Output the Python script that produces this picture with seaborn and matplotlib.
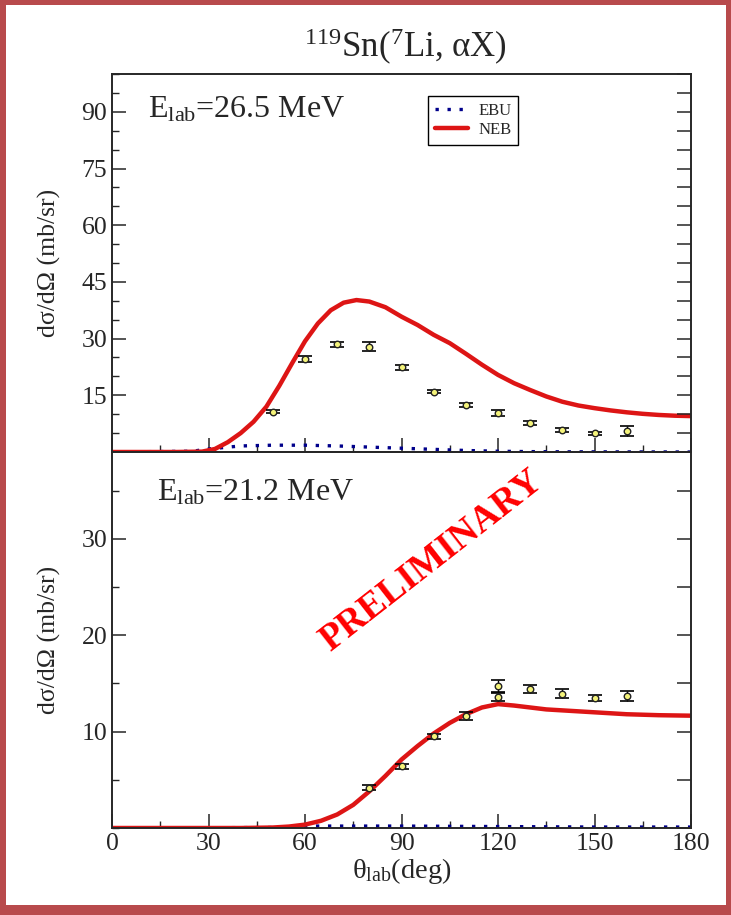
import numpy as np
import matplotlib
matplotlib.use("Agg")
import matplotlib.pyplot as plt
import seaborn as sns
import pandas as pd
from matplotlib.patches import Rectangle
from matplotlib.ticker import MultipleLocator

# ---- data ----
# 26.5 MeV (top panel)
neb_top_x = [0, 10, 20, 28, 32, 36, 40, 44, 48, 52, 56, 60, 64, 68, 72, 76, 80, 85, 90, 95,
             100, 105, 110, 115, 120, 125, 130, 135, 140, 145, 150, 155, 160, 165, 170, 175, 180]
neb_top_y = [0, 0, 0, 0.1, 0.8, 2.6, 5.0, 8.0, 12.0, 17.5, 23.5, 29.3, 34.0, 37.5, 39.5, 40.2,
             39.8, 38.3, 35.8, 33.6, 31.0, 28.8, 26.0, 23.1, 20.4, 18.2, 16.4, 14.7, 13.3, 12.3,
             11.6, 11.0, 10.5, 10.1, 9.8, 9.6, 9.5]
ebu_top_x = [0, 25, 30, 40, 50, 60, 70, 80, 90, 100, 110, 120, 130, 140, 180]
ebu_top_y = [0, 0.2, 0.8, 1.6, 1.8, 1.8, 1.6, 1.3, 1.0, 0.7, 0.4, 0.2, 0.1, 0.05, 0.0]
exp_top_x = [50, 60, 70, 80, 90, 100, 110, 120, 130, 140, 150, 160]
exp_top_y = [10.7, 24.6, 28.5, 27.9, 22.4, 16.0, 12.4, 10.2, 7.6, 5.8, 4.9, 5.6]
exp_top_err = [0.5, 0.9, 0.6, 1.1, 0.6, 0.5, 0.5, 0.8, 0.5, 0.5, 0.5, 1.3]

# 21.2 MeV (bottom panel)
neb_bot_x = [0, 20, 40, 50, 55, 60, 65, 70, 75, 80, 85, 90, 95, 100, 105, 110, 115, 120,
             125, 130, 135, 140, 150, 160, 170, 180]
neb_bot_y = [0, 0, 0, 0.05, 0.15, 0.35, 0.75, 1.4, 2.4, 3.8, 5.4, 7.1, 8.5, 9.8, 10.9, 11.8,
             12.5, 12.85, 12.7, 12.5, 12.3, 12.2, 12.0, 11.8, 11.7, 11.65]
ebu_bot_x = [0, 50, 60, 90, 120, 150, 180]
ebu_bot_y = [0, 0.05, 0.2, 0.2, 0.15, 0.1, 0.1]
exp_bot_x = [80, 90, 100, 110, 120, 120, 130, 140, 150, 160]
exp_bot_y = [4.2, 6.4, 9.5, 11.65, 14.7, 13.6, 14.4, 13.95, 13.5, 13.7]
exp_bot_err = [0.25, 0.25, 0.3, 0.4, 0.6, 0.4, 0.4, 0.5, 0.3, 0.55]

sns.set_style("ticks")
plt.rcParams["font.family"] = ["Liberation Serif", "DejaVu Serif"]
plt.rcParams["mathtext.fontset"] = "custom"
plt.rcParams["mathtext.rm"] = "Liberation Serif"
plt.rcParams["mathtext.it"] = "Liberation Serif:italic"
plt.rcParams["axes.linewidth"] = 1.2

W, H = 731, 915
fig = plt.figure(figsize=(W / 100, H / 100), dpi=100)
left, right = 112 / W, 691 / W
ax1 = fig.add_axes([left, 1 - 452 / H, right - left, (452 - 74) / H])
ax2 = fig.add_axes([left, 1 - 828 / H, right - left, (828 - 452) / H])

neb_color = "#dd1515"
ebu_color = "#00008b"


def draw(ax, nx, ny, ex, ey, px, py, perr, ymax, legend=False):
    sns.lineplot(x=ex, y=ey, ax=ax, color=ebu_color, lw=2.4, linestyle=(0, (1, 2.6)),
                 label="EBU" if legend else None)
    sns.lineplot(x=nx, y=ny, ax=ax, color=neb_color, lw=3.2,
                 label="NEB" if legend else None)
    ax.errorbar(px, py, yerr=perr, fmt="none", ecolor="black", elinewidth=1.0,
                capsize=5, capthick=1.2, zorder=4)
    sns.scatterplot(x=px, y=py, ax=ax, marker="o", s=22, color="#f4f37a",
                    edgecolor="#222222", linewidth=1.0, zorder=5)
    ax.set_xlim(0, 180)
    ax.set_ylim(0, ymax)
    ax.xaxis.set_major_locator(MultipleLocator(30))
    ax.xaxis.set_minor_locator(MultipleLocator(15))
    ax.tick_params(axis="both", which="major", direction="in", length=10, width=1.1,
                   labelsize=18.5, top=False, right=False)
    ax.tick_params(axis="both", which="minor", direction="in", length=5, width=1.0,
                   top=False, right=False)
    ax.set_xlabel("")
    ax.set_ylabel("dσ/dΩ (mb/sr)", fontsize=18.5)
    ax.yaxis.set_label_coords(-0.088, 0.5)
    tw = ax.twinx()
    tw.set_ylim(0, ymax)
    tw.yaxis.set_major_locator(MultipleLocator(5))
    tw.tick_params(axis="y", direction="in", length=10, width=1.1, labelright=False)
    return tw


draw(ax1, neb_top_x, neb_top_y, ebu_top_x, ebu_top_y, exp_top_x, exp_top_y, exp_top_err,
     100, legend=True)
ax1.yaxis.set_major_locator(MultipleLocator(15))
ax1.yaxis.set_minor_locator(MultipleLocator(5))
ax1.set_yticks([15, 30, 45, 60, 75, 90])
ax1.tick_params(axis="x", labelbottom=False)
leg = ax1.legend(loc="upper left", bbox_to_anchor=(0.532, 0.963), fontsize=12,
                 frameon=True, fancybox=False, edgecolor="black", framealpha=1,
                 handlelength=2.0, handletextpad=0.6, borderpad=0.4, labelspacing=0.2)
leg.get_frame().set_linewidth(1.0)
ax1.text(0.062, 0.884, r"E$_{\rm lab}$=26.5 MeV", transform=ax1.transAxes,
         fontsize=23, va="baseline", ha="left")

draw(ax2, neb_bot_x, neb_bot_y, ebu_bot_x, ebu_bot_y, exp_bot_x, exp_bot_y, exp_bot_err, 39)
ax2.set_yticks([10, 20, 30])
ax2.yaxis.set_minor_locator(MultipleLocator(5))
ax2.set_xticks([0, 30, 60, 90, 120, 150, 180])
ax2.set_xlabel(r"θ$_{\rm lab}$(deg)", fontsize=20.5, labelpad=1)
ax2.text(0.078, 0.872, r"E$_{\rm lab}$=21.2 MeV", transform=ax2.transAxes,
         fontsize=23, va="baseline", ha="left")

fig.text(405 / W, 1 - 57 / H, r"$^{119}$Sn($^{7}$Li, αX)", fontsize=25,
         ha="center", va="baseline")
fig.text(432 / W, 1 - 561 / H, "PRELIMINARY", fontsize=27, fontweight="bold",
         color="#ff0000", rotation=38, ha="center", va="center")

# outer frame
bc = "#b84a4c"
for x0, y0, w, h in [(0, 0, 6, H), (W - 5, 0, 5, H), (0, 0, W, 10), (0, H - 5, W, 5)]:
    fig.add_artist(Rectangle((x0 / W, y0 / H), w / W, h / H, transform=fig.transFigure,
                             facecolor=bc, edgecolor="none", zorder=10))

fig.savefig("out.png", dpi=100)
